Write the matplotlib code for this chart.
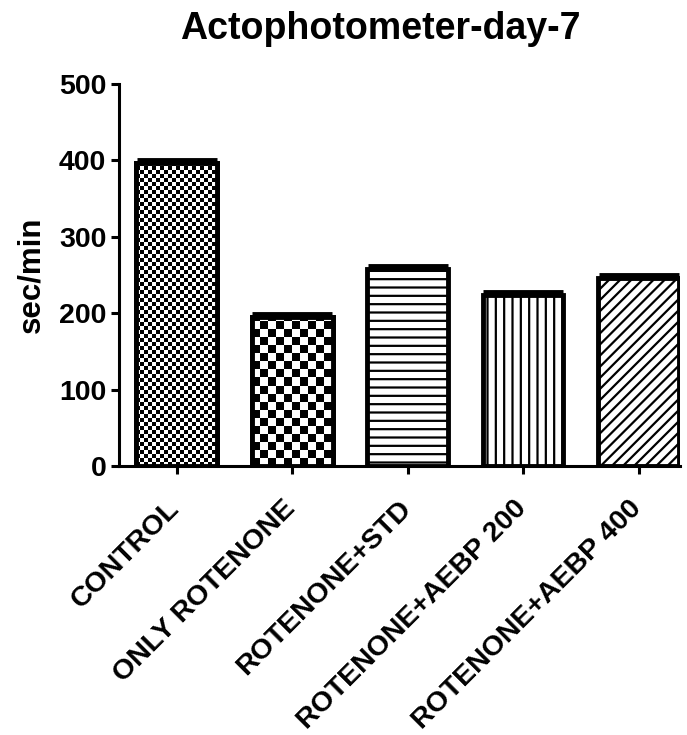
import numpy as np
import matplotlib
matplotlib.use("Agg")
import matplotlib.pyplot as plt
import matplotlib.transforms as mtransforms

plt.rcParams['font.family'] = ['Liberation Sans', 'DejaVu Sans']
plt.rcParams['font.weight'] = 'bold'
plt.rcParams['hatch.linewidth'] = 1.6

title = "Actophotometer-day-7"
ylabel = "sec/min"
categories = ["CONTROL", "ONLY ROTENONE", "ROTENONE+STD", "ROTENONE+AEBP 200", "ROTENONE+AEBP 400"]
values = [396, 195, 258, 224, 246]
errors = [4, 4, 4, 4, 4]
yticks = [0, 100, 200, 300, 400, 500]
hatches = [None, None, '--', '||', '///']
checker_px = [4, 8, 0, 0, 0]  # checkerboard cell size in pixels (0 = none)

fig = plt.figure(figsize=(6.87, 7.35), dpi=100)
ax = fig.add_axes([0.173, 0.366, 0.817, 0.520])

x = np.arange(len(categories))
bars = ax.bar(x, values, width=0.7, color='white', edgecolor='black',
              linewidth=3.5, zorder=2)
for b, h in zip(bars, hatches):
    if h:
        b.set_hatch(h)

ax.errorbar(x, values, yerr=errors, fmt='none', ecolor='black',
            elinewidth=3, capsize=29, capthick=3.5, zorder=1)

ax.set_xlim(-0.5, 4.36)
ax.set_ylim(0, 500)
ax.set_yticks(yticks)
ax.set_xticks(x)

for s in ['top', 'right']:
    ax.spines[s].set_visible(False)
for s in ['left', 'bottom']:
    ax.spines[s].set_linewidth(2.2)
ax.tick_params(axis='both', width=2.2, length=6, direction='out')
ax.tick_params(axis='x', pad=14)
ax.tick_params(axis='y', pad=3)

ax.set_xticklabels(categories, rotation=45, ha='right', va='top',
                   rotation_mode='anchor', fontsize=20.5, fontweight='bold')
shift = mtransforms.ScaledTranslation(-10 / 100, -2 / 100, fig.dpi_scale_trans)
for lab in ax.get_xticklabels():
    lab.set_transform(lab.get_transform() + shift)
for lab in ax.get_yticklabels():
    lab.set_fontsize(20.5)
    lab.set_fontweight('bold')

ax.set_ylabel(ylabel, fontsize=22.5, fontweight='bold', labelpad=9)
ax.set_title(title, fontsize=27, fontweight='bold', pad=32, x=0.465)

# checkerboard fills clipped to the bars
inv = ax.transData.inverted()
for b, cell in zip(bars, checker_px):
    if not cell:
        continue
    x0, y0 = b.get_x(), b.get_y()
    w, hgt = b.get_width(), b.get_height()
    p0 = ax.transData.transform((x0, y0))
    p1 = ax.transData.transform((x0 + w, y0 + hgt))
    nx = int(np.ceil((p1[0] - p0[0]) / cell))
    ny = int(np.ceil((p1[1] - p0[1]) / cell))
    board = (np.add.outer(np.arange(ny), np.arange(nx)) % 2).astype(float)
    ex1 = inv.transform((p0[0] + nx * cell, p0[1] + ny * cell))
    im = ax.imshow(board, cmap='gray', interpolation='nearest', origin='lower',
                   extent=(x0, ex1[0], y0, ex1[1]), aspect='auto', zorder=2.5)
    im.set_clip_path(b)
    ax.add_patch(plt.Rectangle((x0, y0), w, hgt, fill=False, edgecolor='black',
                               linewidth=3.5, zorder=3))
ax.set_xlim(-0.5, 4.36)
ax.set_ylim(0, 500)

fig.savefig("out.png", dpi=100)
